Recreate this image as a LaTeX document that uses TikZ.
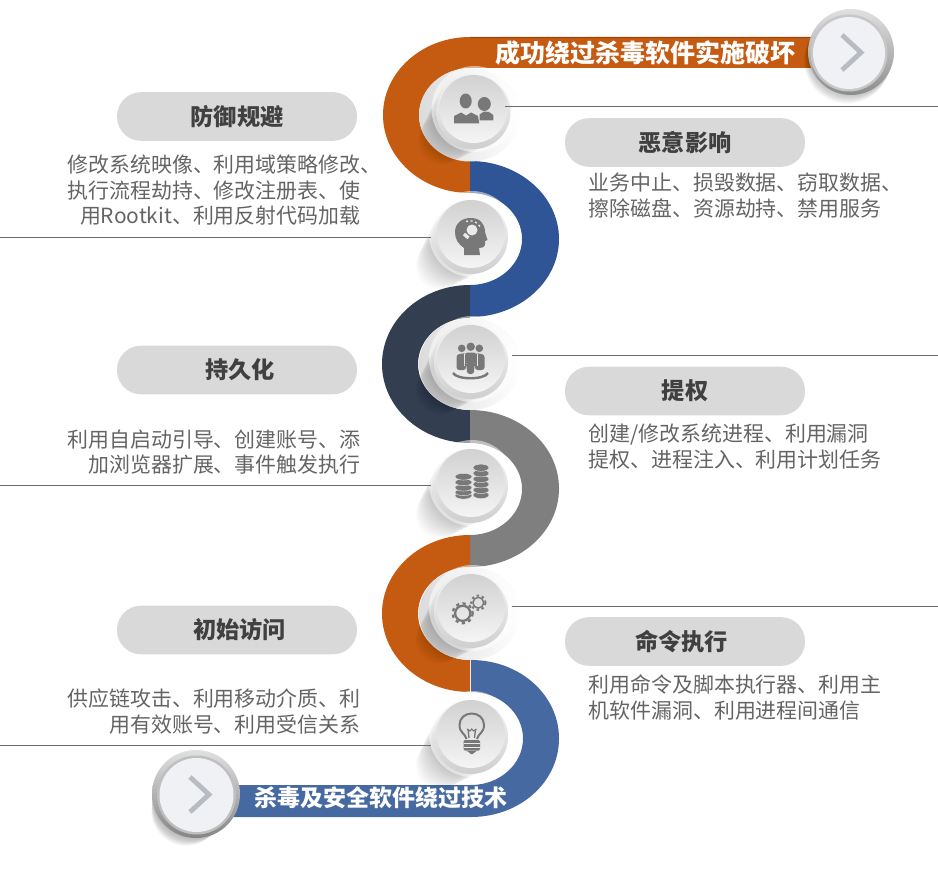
\documentclass[tikz,border=0pt]{standalone}
\usepackage{fontspec}
\setmainfont{Noto Sans CJK SC}
\usetikzlibrary{shadings}
\definecolor{ribbonorange}{RGB}{197,90,17}
\definecolor{ribbonblue}{RGB}{47,85,151}
\definecolor{ribbondark}{RGB}{51,63,80}
\definecolor{ribbongray}{RGB}{127,127,127}
\definecolor{ribbonsteel}{RGB}{69,105,160}
\definecolor{pillgray}{RGB}{217,217,217}
\definecolor{bodygray}{RGB}{100,100,100}
\definecolor{titlegray}{RGB}{64,64,64}
\definecolor{icongray}{RGB}{120,120,120}
\definecolor{chevrongray}{RGB}{184,188,194}
\definecolor{buttonface}{RGB}{239,241,245}
\tikzset{every picture/.style={line width=0.75pt}}
\tikzset{
  pill/.style={fill=pillgray,rounded corners=18pt,minimum width=180pt,minimum height=36.5pt,inner sep=0pt,
    text=titlegray,font=\fontsize{17.4}{20}\selectfont\bfseries},
  bodytext/.style={inner sep=0pt,text=bodygray,font=\fontsize{15.7}{19.1}\selectfont},
  bandtext/.style={inner sep=0pt,anchor=west,text=white},
  ball/.style={circle,minimum size=51pt,inner sep=0pt,shading angle=-45,top color=black!18,bottom color=black!4},
  leader/.style={draw=black!58,line width=0.75pt},
  icon/.style={fill=icongray,draw=none},
  coin/.style={fill=icongray,draw=black!8,line width=0.3pt},
  chevron/.style={draw=chevrongray,line width=3.6pt,line join=miter},
}

\begin{document}
\begin{tikzpicture}[x=0.75pt,y=0.75pt,yscale=-1,xscale=1]
\useasboundingbox (0,0) rectangle (938,870);

%Shape: Ribbon top
\fill [ribbonorange] (815,37) -- (470,37) .. controls (422,37) and (383,72) .. (383,115) .. controls (383,158) and (422,193) .. (470,193) -- (470,161) .. controls (442,161) and (419,140.7) .. (419,115) .. controls (419,89.3) and (442,68) .. (470,68) -- (815,68) -- cycle ;
\draw [ribbonorange!75!black,line width=1pt] (815,37.5) -- (470,37.5) ;
%Shape: Ribbon second
\fill [ribbonblue] (470,161) .. controls (519,161) and (559,196) .. (559,239) .. controls (559,282) and (519,317) .. (470,317) -- (470,285) .. controls (498.7,285) and (522,264.4) .. (522,239) .. controls (522,213.6) and (498.7,193) .. (470,193) -- cycle ;
%Shape: Ribbon third
\fill [ribbondark] (470,285) .. controls (421.4,285) and (382,320.4) .. (382,364) .. controls (382,407.6) and (421.4,443) .. (470,443) -- (470,410) .. controls (441.3,410) and (418,389.4) .. (418,364) .. controls (418,338.6) and (441.3,318) .. (470,318) -- cycle ;
%Shape: Ribbon fourth
\fill [ribbongray] (470,410) .. controls (519,410) and (559,445) .. (559,488.5) .. controls (559,532) and (519,567) .. (470,567) -- (470,535) .. controls (498.7,535) and (522,514.4) .. (522,489) .. controls (522,463.6) and (498.7,443) .. (470,443) -- cycle ;
%Shape: Ribbon fifth
\fill [ribbonorange] (470,535) .. controls (421.4,535) and (382,570) .. (382,613.5) .. controls (382,657) and (421.4,692) .. (470,692) -- (470,660) .. controls (441.3,660) and (418,639.2) .. (418,613.5) .. controls (418,587.8) and (441.3,567) .. (470,567) -- cycle ;
%Shape: Ribbon sixth
\fill [ribbonsteel] (471,660) .. controls (520,660) and (559,695) .. (559,738.5) .. controls (559,782) and (520,817) .. (471,817) -- (232,817) -- (232,785) -- (471,785) .. controls (499.7,785) and (523,764.2) .. (523,738.5) .. controls (523,712.8) and (499.7,692) .. (471,692) -- cycle ;

%Shape: Notch shading
\foreach \cy/\ry in {115/46.5,364/46,613.5/46.5}{
  \shade [left color=black!14,right color=white] (470,\cy) ellipse [x radius=51,y radius=\ry];
}
%Shape: Long shadows
\foreach \cx/\cy in {473.5/109,471/234,471/359,471/483,471/608,471/734}{
  \foreach \i in {1,...,32}{
    \fill [black,opacity=0.0075] (\cx-\i,\cy+\i) circle (38-\i*0.45);
  }
}
%Shape: Ball rims
\foreach \cx/\cy in {473.5/109,471/234,471/359,471/483,471/608,471/734}{
  \fill [white,opacity=0.5] (\cx+1,\cy) circle (43);
  \shade [top color=black!3,bottom color=black!19] (\cx,\cy+3) circle (37);
}

% Balls
\node (ballA) [ball] at (473.5,109) {};
\node (ballB) [ball] at (471,234) {};
\node (ballC) [ball] at (471,359) {};
\node (ballD) [ball] at (471,483) {};
\node (ballE) [ball] at (471,608) {};
\node (ballF) [ball] at (471,734) {};

% Leader lines
\coordinate (endA) at (938,107);
\coordinate (endB) at (0,237.5);
\coordinate (endC) at (938,355.5);
\coordinate (endD) at (0,485);
\coordinate (endE) at (938,606);
\coordinate (endF) at (0,745);
\draw [leader,shorten <=-1.9pt] (ballA.east |- endA) -- (endA) ;
\draw [leader,shorten >=3.8pt] (endB) -- (ballB.west |- endB) ;
\draw [leader,shorten <=4.5pt] (ballC.east |- endC) -- (endC) ;
\draw [leader,shorten >=3.8pt] (endD) -- (ballD.west |- endD) ;
\draw [leader,shorten <=4.5pt] (ballE.east |- endE) -- (endE) ;
\draw [leader,shorten >=3.8pt] (endF) -- (ballF.west |- endF) ;

%Shape: Icon people
\fill [icon] (465.7,101) ellipse [x radius=6,y radius=7.5];
\fill [icon] (454,123.5) -- (454,116) -- (461,112.5) -- (466,115.5) -- (471,112.5) -- (478,116) -- (479.3,123.5) -- cycle ;
\fill [icon] (484.3,104) ellipse [x radius=6.5,y radius=7];
\fill [icon] (479.5,120.5) -- (479.5,114.5) -- (484,111.5) -- (489,112) -- (493.3,115) -- (493.3,120.5) -- cycle ;
%Shape: Icon head
\fill [icon] (464,255) -- (464,248) .. controls (458,244) and (455,239) .. (455,232) .. controls (455,223) and (462,218) .. (471,218) .. controls (480,218) and (485,224) .. (485,232) -- (487.5,240) -- (485,241) .. controls (485.5,245) and (485,248) .. (479,248) -- (480,255) -- cycle ;
\fill [black!8] (472,230) circle (5.5);
\draw [black!8,line width=2.5pt] (464,234) -- (468.5,238) ;
\draw [black!8,line width=1pt,dash pattern=on 1.5pt off 2pt] (466,221.5) .. controls (470,219.5) and (477,221) .. (480.5,227) ;
%Shape: Icon group
\fill [icon] (461.7,348.3) circle (3.8);
\fill [icon] (479.3,348.3) circle (3.8);
\fill [icon,rounded corners=2pt] (456.5,370) -- (456.5,354.5) -- (466,353) -- (466,370) -- cycle ;
\fill [icon,rounded corners=2pt] (475,370) -- (475,353) -- (484.5,354.5) -- (484.5,370) -- cycle ;
\draw [black!10,line width=0.7pt] (464.3,354) -- (464.3,366) ;
\draw [black!10,line width=0.7pt] (477,354) -- (477,366) ;
\fill [icon] (470.7,346.7) circle (4.2);
\fill [icon,rounded corners=2pt] (465,352.5) -- (476.3,352.5) -- (476.3,364) -- (474.5,364) -- (474,374) -- (467,374) -- (466.5,364) -- (465,364) -- cycle ;
\draw [icongray,line width=1.8pt] (453,373) .. controls (457,380) and (484,380) .. (488,373) ;
%Shape: Icon coins
\foreach \sy in {495.7,492.3,487.7,482.3,476.7}{
  \fill [coin] (463.5,\sy) ellipse [x radius=8.5,y radius=3.4];
}
\foreach \sy in {495,490,484.3,479,473.3,467.7}{
  \fill [coin] (481,\sy) ellipse [x radius=8,y radius=3.6];
}
%Shape: Icon gears
\draw [icongray,line width=1.7pt] (462.7,613.3) circle (7.6);
\draw [icongray,line width=1.7pt,dash pattern=on 2.4pt off 2.6pt] (462.7,613.3) circle (10);
\draw [icongray,line width=1.1pt] (478.3,602.7) circle (5.4);
\draw [icongray,line width=1.4pt,dash pattern=on 1.8pt off 2.2pt] (478.3,602.7) circle (7.2);
%Shape: Icon bulb
\draw [icongray,line width=1.5pt] (466.5,739) .. controls (465,733) and (459.5,733) .. (459.5,725) .. controls (459.5,718) and (465,713.5) .. (471.7,713.5) .. controls (478.5,713.5) and (484,718) .. (484,725) .. controls (484,733) and (478.5,733) .. (477,739) ;
\draw [icongray,line width=1pt] (469,738) -- (468,729) ;
\draw [icongray,line width=1pt] (474.5,738) -- (475.5,729) ;
\draw [icongray,line width=0.8pt] (467,729) -- (470,731) -- (471.7,729) -- (473.5,731) -- (476.5,729) ;
\fill [icon,rounded corners=1pt] (463.5,740) rectangle (480,750.5);
\draw [black!8,line width=0.6pt] (463.5,743.5) -- (480,743.5) ;
\draw [black!8,line width=0.6pt] (463.5,747) -- (480,747) ;
\fill [icon] (467,751) -- (476.5,751) -- (472.5,754) -- (471,754) -- cycle ;

%Shape: Button top
\foreach \i in {1,...,20}{
  \fill [black,opacity=0.012] (851-\i*0.2,52+\i*0.45) circle (43);
}
\shade [shading angle=-45,top color=black!12,bottom color=black!45] (851,52) circle (43);
\fill [black!22] (849,53) circle (38.5);
\fill [buttonface] (849,53) circle (36);
\draw [chevron] (842,35) -- (861,52.5) -- (842,70) ;
%Shape: Button bottom
\foreach \i in {1,...,30}{
  \fill [black,opacity=0.012] (196-\i*0.35,794+\i*0.6) circle (43-\i*0.3);
}
\shade [shading angle=-45,top color=black!12,bottom color=black!48] (196,794) circle (44);
\fill [black!25] (196.5,795) circle (39.5);
\fill [buttonface] (196.5,795) circle (37);
\draw [chevron] (190,777) -- (209,794.5) -- (190,812) ;

% Text Node
\node (bandtop) [bandtext,font=\fontsize{18.75}{22}\selectfont\bfseries] at (495,53) {成功绕过杀毒软件实施破坏};
\node (bandbottom) [bandtext,font=\fontsize{17.25}{20}\selectfont\bfseries] at (254,798) {杀毒及安全软件绕过技术};
% Text Node
\node (pillevade) [pill] at (237,116.5) {防御规避};
\node (pillimpact) [pill] at (685,142.5) {恶意影响};
\node (pillpersist) [pill] at (237,370) {\hspace*{4.5pt}持久化};
\node (pillprivilege) [pill] at (685,391) {提权};
\node (pillaccess) [pill] at (237,630) {\hspace*{4pt}初始访问};
\node (pillexecute) [pill] at (685,641.5) {\hspace*{-5pt}命令执行};
% Text Node
\node (textevade) [bodytext,anchor=east,align=right] at (361,190.5) {修改系统映像、利用域策略修改\rlap{、}\\执行流程劫持、修改注册表、使\\用Rootkit、利用反射代码加载};
\node (textimpact) [bodytext,anchor=west,align=left] at (588,195.5) {业务中止、损毁数据、窃取数据、\\擦除磁盘、资源劫持、禁用服务};
\node (textpersist) [bodytext,anchor=east,align=right] at (361,452) {利用自启动引导、创建账号、添\\加浏览器扩展、事件触发执行};
\node (textprivilege) [bodytext,anchor=west,align=left] at (588,446.5) {创建/修改系统进程、利用漏洞\\提权、进程注入、利用计划任务};
\node (textaccess) [bodytext,anchor=east,align=right] at (361,711.5) {供应链攻击、利用移动介质、利\\用有效账号、利用受信关系};
\node (textexecute) [bodytext,anchor=west,align=left] at (588,697.5) {利用命令及脚本执行器、利用主\\机软件漏洞、利用进程间通信};

\end{tikzpicture}
\end{document}
